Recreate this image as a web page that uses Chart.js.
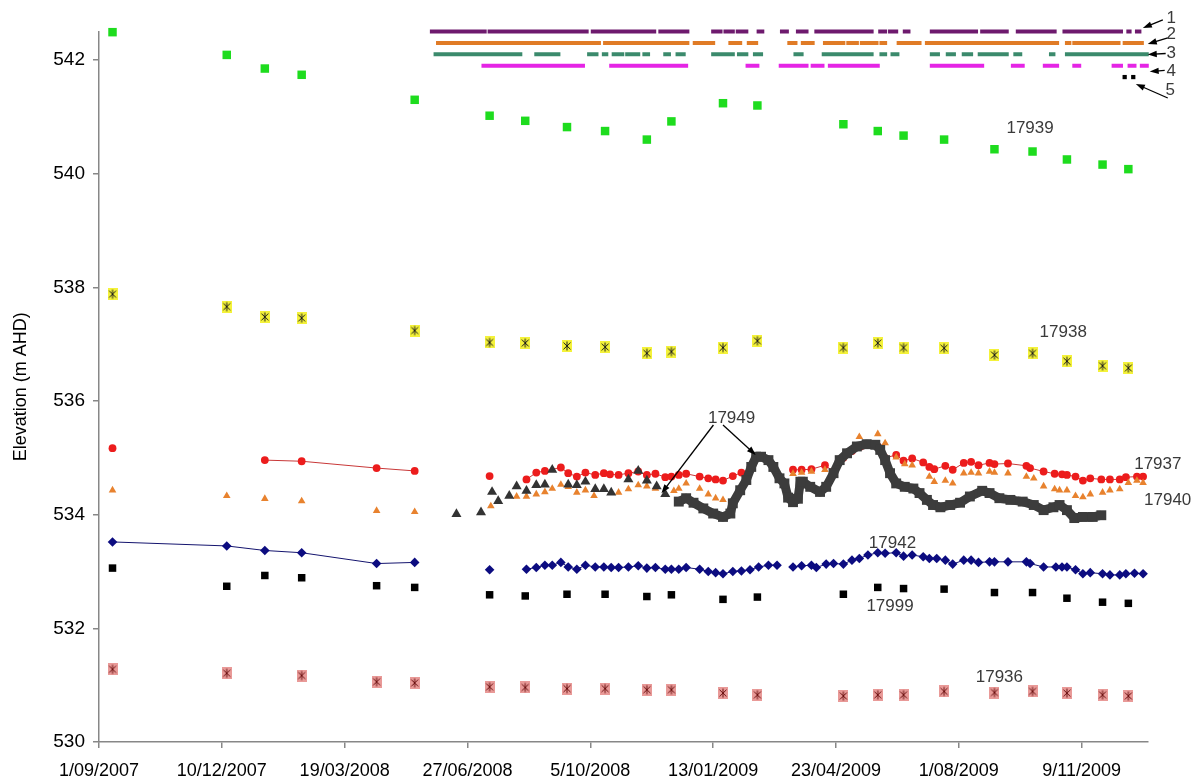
<!DOCTYPE html>
<html>
<head>
<meta charset="utf-8">
<script src="https://cdn.jsdelivr.net/npm/chart.js@4.4.1/dist/chart.umd.min.js"></script>
<style>
  html, body { margin: 0; padding: 0; background: #fff; }
  canvas { display: block; }
</style>
</head>
<body>
<canvas id="chart" width="1203" height="782"></canvas>
<script>
// ---- Axis ----------------------------------------------------------------
const xTickLabels = ['1/09/2007', '10/12/2007', '19/03/2008', '27/06/2008', '5/10/2008',
                     '13/01/2009', '23/04/2009', '1/08/2009', '9/11/2009'];
const xAxisEnd = '2/01/2010';
const yMin = 530, yMax = 542.5, yStep = 2;

// ---- Manual dip readings (survey rounds) ---------------------------------
const surveyDates = ['2007-09-12', '2007-12-14', '2008-01-14', '2008-02-13', '2008-04-14', '2008-05-15',
                     '2008-07-15', '2008-08-13', '2008-09-16', '2008-10-17', '2008-11-20', '2008-12-10',
                     '2009-01-21', '2009-02-18', '2009-04-29', '2009-05-27', '2009-06-17', '2009-07-20',
                     '2009-08-30', '2009-09-30', '2009-10-28', '2009-11-26', '2009-12-17'];
const bore17939 = [542.49, 542.09, 541.85, 541.74, null, 541.30, 541.02, 540.93, 540.82, 540.75, 540.60, 540.92,
                   541.24, 541.20, 540.87, 540.75, 540.67, 540.60, 540.43, 540.39, 540.25, 540.16, 540.08];
const bore17938 = [537.88, 537.66, 537.48, 537.46, null, 537.24, 537.03, 537.02, 536.97, 536.95, 536.84, 536.87,
                   536.94, 537.06, 536.94, 537.02, 536.94, 536.93, 536.81, 536.84, 536.70, 536.62, 536.58];
const bore17999 = [533.06, 532.74, 532.93, 532.89, 532.75, 532.72, 532.59, 532.57, 532.60, 532.60, 532.56, 532.59,
                   532.51, 532.55, 532.60, 532.72, 532.70, 532.69, 532.63, 532.63, 532.53, 532.46, 532.44];
const bore17936 = [531.28, 531.21, null, 531.17, 531.06, 531.04, 530.97, 530.96, 530.94, 530.94, 530.92, 530.92,
                   530.86, 530.83, 530.81, 530.83, 530.83, 530.89, 530.87, 530.89, 530.86, 530.83, 530.81];

// ---- Frequent readings: [Excel date serial, elevation]; null breaks the line
const bore17937 = [[39337,535.17],[39400,null],[39461,534.96],[39491,534.94],[39552,534.82],[39583,534.77],[39610,null],
  [39644,534.68],[39660,null],[39674,534.62],[39682,534.74],[39689,534.77],[39702,534.83],[39708,534.73],[39715,534.67],
  [39722,534.74],[39730,534.70],[39737,534.73],[39742,534.71],[39749,534.70],[39757,534.73],[39765,534.76],[39772,534.70],
  [39779,534.72],[39787,534.66],[39792,534.67],[39798,534.70],[39804,534.72],[39815,534.67],[39822,534.64],[39828,534.62],
  [39834,534.60],[39842,534.68],[39849,534.74],[39870,null],[39891,534.79],[39898,534.79],[39906,534.80],[39917,534.87],
  [39924,534.76],[39932,535.00],[39939,535.12],[39946,535.20],[39953,535.23],[39960,535.20],[39966,535.00],[39975,535.05],
  [39981,534.95],[39988,534.99],[39997,534.92],[40002,534.84],[40006,534.80],[40015,534.86],[40021,534.79],[40030,534.91],
  [40036,534.93],[40042,534.87],[40051,534.91],[40055,534.89],[40066,534.90],[40081,534.86],[40084,534.82],[40095,534.76],
  [40104,534.72],[40110,534.71],[40114,534.70],[40121,534.67],[40127,534.60],[40133,534.64],[40142,534.62],[40149,534.62],
  [40157,534.62],[40162,534.66],[40171,534.67],[40176,534.67]];

const bore17940 = [[39337,534.43],[39430,534.33],[39461,534.28],[39491,534.24],[39552,534.07],[39583,534.05],
  [39645,534.15],[39666,534.32],[39674,534.32],[39682,534.36],[39689,534.40],[39695,534.46],[39702,534.53],[39708,534.49],
  [39715,534.39],[39722,534.43],[39729,534.33],[39743,534.39],[39749,534.39],[39757,534.45],[39765,534.52],[39772,534.50],
  [39779,534.46],[39794,534.42],[39798,534.46],[39804,534.55],[39815,534.46],[39822,534.36],[39828,534.29],[39834,534.26],
  [39891,534.72],[39898,534.74],[39906,534.76],[39917,534.79],[39924,534.76],[39932,535.00],[39939,535.14],[39945,535.37],
  [39960,535.42],[39966,535.26],[39975,535.01],[39982,534.89],[39988,534.87],[40002,534.67],[40006,534.58],[40015,534.60],
  [40021,534.55],[40030,534.73],[40036,534.74],[40042,534.73],[40051,534.76],[40055,534.74],[40066,534.73],[40081,534.67],
  [40087,534.64],[40095,534.50],[40104,534.45],[40108,534.43],[40114,534.43],[40121,534.33],[40127,534.31],[40133,534.36],
  [40143,534.39],[40149,534.43],[40157,534.45],[40164,534.56],[40171,534.60],[40176,534.56]];

const bore17949Dips = [[39617,534.01],[39637,534.04],[39646,534.40],[39651,534.24],[39660,534.33],[39666,534.50],
  [39674,534.42],[39682,534.52],[39689,534.53],[39695,534.79],[39708,534.53],[39715,534.52],[39722,534.58],[39730,534.45],
  [39737,534.45],[39743,534.39],[39757,534.62],[39765,534.77],[39772,534.60],[39780,534.50],[39787,534.36]];

const bore17949Logger = [[39798,534.23],[39804,534.29],[39810,534.21],[39818,534.11],[39826,534.02],[39834,533.96],
  [39840,534.02],[39842,534.20],[39848,534.43],[39853,534.61],[39857,534.84],[39861,535.02],[39865,535.02],[39871,534.96],
  [39875,534.84],[39880,534.64],[39884,534.55],[39887,534.30],[39891,534.22],[39895,534.28],[39897,534.58],[39899,534.58],
  [39905,534.49],[39913,534.40],[39918,534.49],[39924,534.73],[39929,534.96],[39935,535.08],[39943,535.20],[39951,535.24],
  [39958,535.23],[39962,535.14],[39966,534.96],[39970,534.73],[39975,534.55],[39982,534.49],[39989,534.46],[39994,534.38],
  [40000,534.26],[40005,534.17],[40011,534.13],[40019,534.17],[40027,534.21],[40035,534.32],[40045,534.42],[40051,534.38],
  [40059,534.29],[40068,534.26],[40078,534.23],[40087,534.17],[40095,534.08],[40103,534.13],[40108,534.17],[40114,534.08],
  [40120,533.94],[40127,533.96],[40135,533.96],[40142,533.99]];

const bore17942 = [[39337,533.52],[39430,533.45],[39461,533.37],[39491,533.33],[39552,533.14],[39583,533.16],[39610,null],
  [39644,533.03],[39660,null],[39674,533.04],[39682,533.07],[39689,533.11],[39695,533.11],[39702,533.16],[39708,533.08],
  [39715,533.04],[39722,533.11],[39730,533.08],[39737,533.08],[39743,533.07],[39749,533.07],[39757,533.08],[39765,533.10],
  [39772,533.06],[39779,533.07],[39787,533.04],[39792,533.04],[39798,533.04],[39804,533.07],[39815,533.04],[39822,533.00],
  [39828,532.98],[39834,532.96],[39842,533.00],[39849,533.01],[39856,533.03],[39863,533.08],[39871,533.11],[39878,533.11],
  [39884,null],[39891,533.08],[39898,533.10],[39906,533.11],[39910,533.07],[39918,533.13],[39924,533.14],[39932,533.13],
  [39939,533.20],[39945,533.23],[39952,533.29],[39960,533.33],[39966,533.32],[39975,533.33],[39981,533.27],[39988,533.29],
  [39997,533.26],[40002,533.23],[40008,533.23],[40015,533.20],[40021,533.13],[40030,533.20],[40036,533.20],[40042,533.16],
  [40051,533.17],[40055,533.17],[40066,533.17],[40081,533.17],[40084,533.14],[40095,533.08],[40105,533.08],[40110,533.08],
  [40114,533.08],[40121,533.03],[40127,532.96],[40133,532.98],[40143,532.96],[40149,532.94],[40157,532.94],[40162,532.96],
  [40169,532.97],[40176,532.96]];

// ---- Record-availability strips: [first serial, last serial] of each run ---
const strip1Level = 542.5;
const strip1Runs = [[39597,39640],[39644,39684],[39685,39712],[39714,39723],[39728,39753],[39756,39765],[39767,39778],
  [39783,39795],[39796,39801],[39803,39805],[39826,39832],[39836,39842],[39846,39853],[39863,39866],[39882,39886],
  [39895,39902],[39910,39955],[39962,39966],[39970,39975],[39982,39985],[40004,40040],[40045,40065],[40074,40104],
  [40112,40158],[40164,40165],[40171,40173]];
const strip2Level = 542.3;
const strip2Runs = [[39602,39733],[39738,39805],[39811,39826],[39840,39848],[39855,39861],[39888,39893],[39899,39907],
  [39917,39932],[39936,39943],[39947,39959],[39963,39966],[39977,39994],[40000,40106],[40114,40116],[40120,40156],
  [40161,40175]];
const strip3Level = 542.1;
const strip3Runs = [[39600,39630],[39632,39669],[39682,39700],[39725,39731],[39737,39739],[39745,39752],[39756,39765],
  [39770,39773],[39787,39790],[39797,39802],[39826,39842],[39847,39853],[39860,39865],[39893,39898],[39916,39932],
  [39933,39946],[39948,39955],[39963,39966],[39972,39976],[40004,40009],[40017,40022],[40030,40036],[40043,40065],
  [40072,40076],[40101,40103],[40114,40179]];
const strip4Level = 541.9;
const strip4Runs = [[39639,39686],[39688,39720],[39743,39787],[39789,39804],[39854,39862],[39881,39902],[39907,39915],
  [39921,39960],[40004,40045],[40070,40078],[40096,40106],[40120,40124],[40152,40158],[40165,40169],[40175,40179]];
const strip5Level = 541.7;
const strip5Points = [40161, 40168];

// ---- Annotations ------------------------------------------------------------
const boreLabels = [
  { text: '17939', x: 40084, y: 540.80 },
  { text: '17938', x: 40111, y: 537.21 },
  { text: '17949', x: 39841, y: 535.70 },
  { text: '17937', x: 40188, y: 534.89 },
  { text: '17940', x: 40196, y: 534.26 },
  { text: '17942', x: 39972, y: 533.50 },
  { text: '17999', x: 39970, y: 532.38 },
  { text: '17936', x: 40059, y: 531.14 }
];
const stripLabels = [
  { text: '1', x: 40199, y: 542.74 },
  { text: '2', x: 40199, y: 542.46 },
  { text: '3', x: 40199, y: 542.12 },
  { text: '4', x: 40199, y: 541.81 },
  { text: '5', x: 40198, y: 541.47 }
];
// [from serial, from elevation, to serial, to elevation]
const pointerArrows = [
  [40192.1, 542.705, 40175.8, 542.564],
  [40196.1, 542.388, 40179.8, 542.282],
  [40194.4, 542.115, 40179.8, 542.097],
  [40193.6, 541.816, 40181.4, 541.798],
  [40196.1, 541.332, 40170.1, 541.578],
  [39826.2, 535.578, 39783.9, 534.376],
  [39834.0, 535.578, 39860.7, 535.050]
];

// ---- Helpers ------------------------------------------------------------------
const EXCEL_EPOCH = Date.UTC(1899, 11, 30);
const serialFromDMY = s => { const [d, m, y] = s.split('/').map(Number); return Math.round((Date.UTC(y, m - 1, d) - EXCEL_EPOCH) / 864e5); };
const serialFromISO = s => { const [y, m, d] = s.split('-').map(Number); return Math.round((Date.UTC(y, m - 1, d) - EXCEL_EPOCH) / 864e5); };

const xTickValues = xTickLabels.map(serialFromDMY);
const tickText = {};
xTickValues.forEach((v, i) => { tickText[v] = xTickLabels[i]; });
const xMin = xTickValues[0], xMax = serialFromDMY(xAxisEnd);

const surveySerials = surveyDates.map(serialFromISO);
const survey = vals => surveySerials.map((x, i) => ({ x, y: vals[i] })).filter(p => p.y !== null);
const pairs = arr => arr.map(([x, y]) => ({ x, y }));
const runs = (list, level) => list.flatMap(([a, b]) => [{ x: a, y: level }, { x: b, y: level }, { x: b + 0.01, y: null }]);

function starMarker(fill, ink, w, h) {
  const c = document.createElement('canvas');
  c.width = w; c.height = h;
  const g = c.getContext('2d');
  g.fillStyle = fill;
  g.fillRect(0, 0, w, h);
  g.strokeStyle = ink;
  g.lineWidth = 1;
  const cx = w / 2, cy = h / 2, rx = w / 2 - 1.5, ry = h / 2 - 1.5;
  g.beginPath();
  g.moveTo(cx, cy - ry); g.lineTo(cx, cy + ry);
  g.moveTo(cx - rx, cy - ry * 0.75); g.lineTo(cx + rx, cy + ry * 0.75);
  g.moveTo(cx + rx, cy - ry * 0.75); g.lineTo(cx - rx, cy + ry * 0.75);
  g.stroke();
  return c;
}
const yellowStar = starMarker('#f4f23a', '#1a1a1a', 10, 12);
const pinkStar = starMarker('#e99a98', '#6b1010', 10, 12);

const scatter = (data, style, extra) => Object.assign({ type: 'line', data, showLine: false, clip: false,
  pointBorderWidth: 0, pointHoverRadius: 0 }, style, extra || {});
const strip = (data, color, order) => ({ type: 'line', data, showLine: true, clip: false, borderColor: color,
  borderWidth: 4, borderCapStyle: 'square', pointRadius: 0, order });

// ---- Annotation drawing -------------------------------------------------------
function drawArrow(ctx, x1, y1, x2, y2) {
  const a = Math.atan2(y2 - y1, x2 - x1), L = 9, W = 3.2;
  ctx.beginPath();
  ctx.moveTo(x1, y1);
  ctx.lineTo(x2 - Math.cos(a) * L * 0.7, y2 - Math.sin(a) * L * 0.7);
  ctx.stroke();
  ctx.beginPath();
  ctx.moveTo(x2, y2);
  ctx.lineTo(x2 - L * Math.cos(a) + W * Math.sin(a), y2 - L * Math.sin(a) - W * Math.cos(a));
  ctx.lineTo(x2 - L * Math.cos(a) - W * Math.sin(a), y2 - L * Math.sin(a) + W * Math.cos(a));
  ctx.closePath();
  ctx.fill();
}

const annotationPlugin = {
  id: 'boreAnnotations',
  afterDatasetsDraw(chart) {
    const { ctx, scales: { x, y } } = chart;
    ctx.save();
    ctx.strokeStyle = '#000';
    ctx.fillStyle = '#000';
    ctx.lineWidth = 1.3;
    pointerArrows.forEach(([a, b, c, d]) =>
      drawArrow(ctx, x.getPixelForValue(a), y.getPixelForValue(b), x.getPixelForValue(c), y.getPixelForValue(d)));
    ctx.textAlign = 'center';
    ctx.textBaseline = 'middle';
    ctx.fillStyle = '#3a3a3a';
    ctx.font = '17px "Liberation Sans Narrow", "Liberation Sans", Arial, sans-serif';
    boreLabels.forEach(l => ctx.fillText(l.text, x.getPixelForValue(l.x), y.getPixelForValue(l.y)));
    ctx.font = '17px "Liberation Sans", Arial, sans-serif';
    stripLabels.forEach(l => ctx.fillText(l.text, x.getPixelForValue(l.x), y.getPixelForValue(l.y)));
    ctx.restore();
  }
};

// ---- Chart ----------------------------------------------------------------------
new Chart(document.getElementById('chart'), {
  type: 'line',
  data: {
    datasets: [
      strip(runs(strip1Runs, strip1Level), '#6e1a6e', 1),
      strip(runs(strip2Runs, strip2Level), '#e07b26', 1),
      strip(runs(strip3Runs, strip3Level), '#3b8a6c', 1),
      strip(runs(strip4Runs, strip4Level), '#e524e5', 1),
      scatter(strip5Points.map(x => ({ x, y: strip5Level })), { pointStyle: 'rect', pointRadius: 3, backgroundColor: '#000' }, { order: 1 }),

      Object.assign(scatter(pairs(bore17949Logger), { pointStyle: 'rect', pointRadius: 7, backgroundColor: '#3c3c3c' }),
        { showLine: true, borderColor: '#3c3c3c', borderWidth: 9, borderJoinStyle: 'round', order: 2 }),
      scatter(pairs(bore17949Dips), { pointStyle: 'triangle', pointRadius: 5.8, backgroundColor: '#333' }, { order: 3 }),
      scatter(pairs(bore17940), { pointStyle: 'triangle', pointRadius: 4.4, backgroundColor: '#e8822e' }, { order: 4 }),
      Object.assign(scatter(pairs(bore17937), { pointStyle: 'circle', pointRadius: 3.9, backgroundColor: '#ec1c1c' }),
        { showLine: true, borderColor: '#c83838', borderWidth: 1, order: 5 }),
      Object.assign(scatter(pairs(bore17942), { pointStyle: 'rectRot', pointRadius: 4.8, backgroundColor: '#0c0c80' }),
        { showLine: true, borderColor: '#14146e', borderWidth: 1, order: 6 }),
      scatter(survey(bore17939), { pointStyle: 'rect', pointRadius: 6, backgroundColor: '#1edc1e' }, { order: 7 }),
      scatter(survey(bore17938), { pointStyle: yellowStar, pointRadius: 6 }, { order: 7 }),
      scatter(survey(bore17999), { pointStyle: 'rect', pointRadius: 5.3, backgroundColor: '#000' }, { order: 7 }),
      scatter(survey(bore17936), { pointStyle: pinkStar, pointRadius: 6 }, { order: 7 })
    ]
  },
  options: {
    responsive: false,
    animation: false,
    events: [],
    layout: { padding: { top: 31.6, right: 55, bottom: 0, left: 0 } },
    plugins: { legend: { display: false }, tooltip: { enabled: false } },
    scales: {
      x: {
        type: 'linear',
        min: xMin,
        max: xMax,
        afterBuildTicks: s => { s.ticks = xTickValues.map(v => ({ value: v })); },
        afterFit: s => { s.height = 40; },
        ticks: {
          autoSkip: false, maxRotation: 0, padding: 12, color: '#000',
          font: { family: '"Liberation Sans", Arial, sans-serif', size: 18 },
          callback: v => tickText[v] || ''
        },
        grid: { drawOnChartArea: false, drawTicks: true, tickLength: 6, color: '#878787', lineWidth: 1.5 },
        border: { color: '#878787', width: 1.5 }
      },
      y: {
        min: yMin,
        max: yMax,
        afterFit: s => { s.width = 99; },
        ticks: {
          stepSize: yStep, includeBounds: false, padding: 8, color: '#000',
          font: { family: '"Liberation Sans", Arial, sans-serif', size: 19 }
        },
        grid: { drawOnChartArea: false, drawTicks: true, tickLength: 6, color: '#878787', lineWidth: 1.5 },
        border: { color: '#878787', width: 1.5 },
        title: {
          display: true, text: 'Elevation (m AHD)', color: '#000',
          font: { family: '"Liberation Sans", Arial, sans-serif', size: 18 },
          padding: { top: 10, bottom: 0 }
        }
      }
    }
  },
  plugins: [annotationPlugin]
});
</script>
</body>
</html>
